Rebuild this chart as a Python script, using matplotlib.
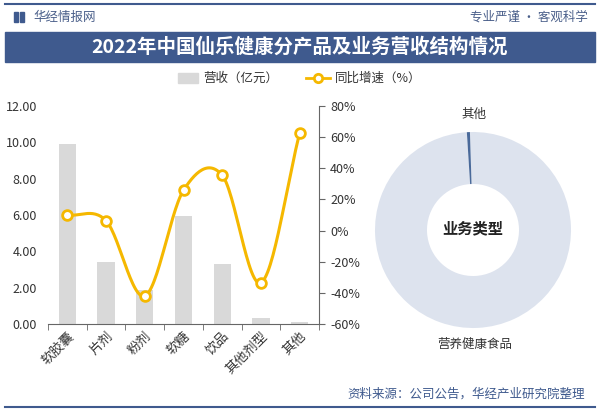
import numpy as np
import matplotlib
matplotlib.use("Agg")
import matplotlib.pyplot as plt
from matplotlib.patches import Rectangle
from matplotlib.lines import Line2D

plt.rcParams['font.family'] = ['Noto Sans CJK SC', 'DejaVu Sans']

categories = ["软胶囊", "片剂", "粉剂", "软糖", "饮品", "其他剂型", "其他"]
revenue = [9.90, 3.40, 1.88, 5.92, 3.33, 0.33, 0.13]
growth = [10.0, 6.3, -42.0, 25.9, 35.5, -33.5, 62.5]
left_ticks = [0, 2, 4, 6, 8, 10, 12]
right_ticks = [-60, -40, -20, 0, 20, 40, 60, 80]
pie_labels = ["营养健康食品", "其他"]
pie_values = [99.5, 0.5]

W, H = 600, 415
fig = plt.figure(figsize=(6, 4.15), dpi=100)
fig.patch.set_facecolor("white")

def fx(x): return x / W
def fy(y): return 1 - y / H

blue = "#3f5a8e"
# header
fig.add_artist(Line2D([fx(5), fx(595)], [fy(4), fy(4)], color=blue, lw=1.5, transform=fig.transFigure))
fig.add_artist(Rectangle((fx(14), fy(22)), 4/W, 10/H, color=blue, transform=fig.transFigure))
fig.add_artist(Rectangle((fx(20), fy(22)), 4/W, 10/H, color=blue, transform=fig.transFigure))
fig.text(fx(33), fy(17), "华经情报网", color="#4a5f8a", fontsize=9, va="center", ha="left")
fig.text(fx(588), fy(17), "专业严谨 • 客观科学", color="#4a5f8a", fontsize=9, va="center", ha="right")
fig.add_artist(Rectangle((fx(5), fy(62)), 590/W, 30/H, color=blue, transform=fig.transFigure))
fig.text(0.5, fy(47), "2022年中国仙乐健康分产品及业务营收结构情况", color="white",
         fontsize=14, fontweight="bold", va="center", ha="center")

# footer
fig.text(fx(585), fy(394), "资料来源：公司公告，华经产业研究院整理", color=blue, fontsize=9,
         va="center", ha="right")
fig.add_artist(Line2D([fx(5), fx(595)], [fy(407), fy(407)], color=blue, lw=1.5, transform=fig.transFigure))

# bar + line chart
ax = fig.add_axes([fx(48), fy(324), (319-48)/W, (324-106)/H])
x = np.arange(len(categories))
ax.bar(x, revenue, width=0.45, color="#d9d9d9", zorder=1)
ax.set_xlim(-0.5, len(categories) - 0.5)
ax.set_ylim(0, 12)
ax.set_yticks(left_ticks)
ax.set_yticklabels([f"{v:.2f}" for v in left_ticks], fontsize=9, color="#333333")
ax.tick_params(axis="y", length=0, pad=8)
ax.set_xticks(x)
ax.set_xticklabels(categories, rotation=45, ha="right", rotation_mode="anchor", fontsize=9.5, color="#333333")
ax.tick_params(axis="x", length=0, pad=4)
ax.set_xticks(np.arange(-0.5, len(categories), 1), minor=True)
ax.tick_params(axis="x", which="minor", length=4, color="#666666")
for s in ["top", "left", "right"]:
    ax.spines[s].set_visible(False)
ax.spines["bottom"].set_color("#666666")

ax2 = ax.twinx()
ax2.set_ylim(-60, 80)
ax2.set_yticks(right_ticks)
ax2.set_yticklabels([f"{v}%" for v in right_ticks], fontsize=9, color="#333333")
ax2.tick_params(axis="y", length=4, color="#666666", pad=4)
for s in ["top", "left", "bottom"]:
    ax2.spines[s].set_visible(False)
ax2.spines["right"].set_color("#666666")

def catmull_rom(xs, ys, n=30):
    xs = np.asarray(xs, float); ys = np.asarray(ys, float)
    px = np.concatenate([[2*xs[0]-xs[1]], xs, [2*xs[-1]-xs[-2]]])
    py = np.concatenate([[2*ys[0]-ys[1]], ys, [2*ys[-1]-ys[-2]]])
    outx, outy = [], []
    for i in range(1, len(px) - 2):
        t = np.linspace(0, 1, n)
        for arr, out in ((px, outx), (py, outy)):
            p0, p1, p2, p3 = arr[i-1], arr[i], arr[i+1], arr[i+2]
            out.extend(0.5 * ((2*p1) + (-p0 + p2)*t + (2*p0 - 5*p1 + 4*p2 - p3)*t**2
                              + (-p0 + 3*p1 - 3*p2 + p3)*t**3))
    return np.array(outx), np.array(outy)

sx, sy = catmull_rom(x, growth)
gold = "#f5b800"
ax2.plot(sx, sy, color=gold, lw=2.2, zorder=3)
ax2.plot(x, growth, "o", ms=7, mfc="white", mec=gold, mew=2, zorder=4)

# legend
fig.add_artist(Rectangle((fx(178), fy(83)), 20/W, 10/H, color="#d9d9d9", transform=fig.transFigure))
fig.text(fx(203), fy(78), "营收（亿元）", fontsize=9, color="#333333", va="center", ha="left")
fig.add_artist(Line2D([fx(306), fx(330)], [fy(78), fy(78)], color=gold, lw=2, transform=fig.transFigure))
fig.add_artist(Line2D([fx(318)], [fy(78)], marker="o", ms=6, mfc="white", mec=gold, mew=2,
                      transform=fig.transFigure))
fig.text(fx(335), fy(78), "同比增速（%）", fontsize=9, color="#333333", va="center", ha="left")

# donut
R = 100
axp = fig.add_axes([fx(473 - R), fy(230 + R), 2*R/W, 2*R/H])
axp.pie(pie_values, radius=0.98, colors=["#dde3ee", "#4a6a9a"], startangle=90 + pie_values[1]/100*360,
        counterclock=False, wedgeprops=dict(width=0.52, linewidth=0))
axp.set_xlim(-1, 1); axp.set_ylim(-1, 1)
axp.set_aspect("equal")
axp.axis("off")
fig.text(fx(473), fy(228), "业务类型", fontsize=11, fontweight="bold", color="#222222", ha="center", va="center")
fig.text(fx(474), fy(114), pie_labels[1], fontsize=9, color="#333333", ha="center", va="center")
fig.text(fx(475), fy(344), pie_labels[0], fontsize=9, color="#333333", ha="center", va="center")

fig.savefig("out.png", dpi=100)
